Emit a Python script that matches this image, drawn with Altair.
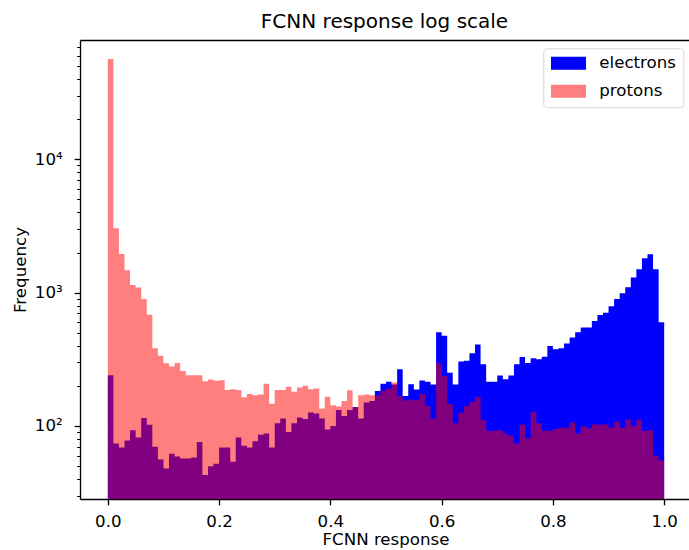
import altair as alt
import pandas as pd

# ---- data (100 bins over [0, 1]) ----
N_BINS = 100
electrons = [240, 74, 69, 78, 93, 82, 115, 102, 70, 56,
             48, 62, 59, 57, 57, 58, 76, 43, 50, 52,
             69, 69, 54, 82, 71, 69, 77, 86, 88, 69,
             105, 114, 90, 105, 116, 113, 126, 124, 114, 94,
             100, 132, 119, 132, 139, 114, 150, 154, 183, 207,
             215, 205, 266, 168, 206, 188, 219, 215, 205, 504,
             475, 251, 205, 304, 309, 351, 408, 290, 215, 215,
             239, 224, 239, 290, 329, 297, 322, 317, 331, 398,
             376, 383, 415, 460, 504, 547, 547, 614, 681, 708,
             790, 897, 989, 1097, 1297, 1497, 1811, 1942, 1497, 600]
protons = [56500, 3040, 1950, 1475, 1143, 1091, 897, 684, 383, 337,
           295, 279, 297, 258, 240, 240, 240, 217, 223, 218,
           220, 186, 189, 186, 164, 174, 170, 172, 207, 147,
           186, 186, 197, 181, 194, 200, 189, 191, 135, 166,
           143, 140, 154, 185, 138, 170, 172, 170, 170, 183,
           190, 212, 167, 155, 158, 157, 174, 141, 114, 295,
           237, 146, 105, 126, 141, 152, 166, 111, 92, 92,
           93, 88, 84, 74, 102, 81, 128, 105, 92, 92,
           95, 97, 97, 106, 88, 100, 96, 103, 102, 103,
           97, 108, 97, 112, 100, 112, 92, 93, 60, 55]
series_names = ["electrons", "protons"]
series_colors = ["#0000ff", "#ff0000"]
series_alpha = [1.0, 0.5]
x_ticks = [0.0, 0.2, 0.4, 0.6, 0.8, 1.0]
y_major = [100, 1000, 10000]
y_minor = [30, 40, 50, 60, 70, 80, 90,
           200, 300, 400, 500, 600, 700, 800, 900,
           2000, 3000, 4000, 5000, 6000, 7000, 8000, 9000,
           20000, 30000, 40000, 50000, 60000, 70000]
X_DOMAIN = [-0.05, 1.0446]
Y_DOMAIN = [28.35, 78460]

FONT = "DejaVu Sans"
FS = 16.67

edges = [i / N_BINS for i in range(N_BINS + 1)]


def step_frame(name, counts):
    # step-after outline: one point per bin start, plus closing edge
    return pd.DataFrame({
        "edge": edges,
        "count": list(counts) + [counts[-1]],
        "series": name,
    })


df = pd.concat([step_frame("electrons", electrons),
                step_frame("protons", protons)], ignore_index=True)

major_test = " || ".join(f"datum.value == {v}" for v in y_major)

y_axis = alt.Axis(
    values=y_major + y_minor,
    labelExpr=("datum.value == 100 ? '10\u00b2' : datum.value == 1000 ? '10\u00b3' : "
               "datum.value == 10000 ? '10\u2074' : ''"),
    tickSize={"condition": {"test": major_test, "value": 5.83}, "value": 3.33},
    tickWidth={"condition": {"test": major_test, "value": 1.33}, "value": 1.0},
    tickColor="black",
    domainColor="black",
    domainWidth=1.33,
    labelFont=FONT,
    labelFontSize=FS,
    labelColor="black",
    labelPadding=12,
    labelBaseline="middle",
    grid=False,
    title="Frequency",
    titleFont=FONT,
    titleFontSize=FS,
    titleFontWeight="normal",
    titleColor="black",
    titleAngle=270,
    titleBaseline="middle",
    titleX=-59.5,
    titleY=229.5,
    titleAlign="center",
)

x_axis_bottom = alt.Axis(
    values=x_ticks,
    format=".1f",
    tickSize=5.83,
    tickWidth=1.33,
    tickColor="black",
    domainColor="black",
    domainWidth=1.33,
    labelFont=FONT,
    labelFontSize=FS,
    labelColor="black",
    labelPadding=9,
    labelFlush=False,
    grid=False,
    title="FCNN response",
    titleFont=FONT,
    titleFontSize=FS,
    titleFontWeight="normal",
    titleColor="black",
    titleBaseline="alphabetic",
    titleX=305.5,
    titleY=45,
    titleAlign="center",
)

x_axis_top = alt.Axis(
    orient="top",
    labels=False,
    ticks=False,
    grid=False,
    domain=True,
    domainColor="black",
    domainWidth=1.33,
    title=None,
)

legend = alt.Legend(
    title=None,
    orient="none",
    legendX=463.3,
    legendY=8.3,
    direction="vertical",
    padding=6.7,
    cornerRadius=3,
    fillColor="white",
    strokeColor="#d6d6d6",
    symbolType="M-1,-0.371L1,-0.371L1,0.371L-1,0.371Z",
    symbolSize=1225,
    symbolStrokeWidth=0,
    symbolOffset=1,
    clipHeight=16.7,
    rowPadding=10,
    labelOffset=13.3,
    labelFont=FONT,
    labelFontSize=FS,
    labelColor="black",
)

color_enc = alt.Color("series:N",
                      scale=alt.Scale(domain=series_names, range=series_colors),
                      legend=legend)
opacity_enc = alt.Opacity("series:N",
                          scale=alt.Scale(domain=series_names, range=series_alpha),
                          legend=legend)


def layer(name, x_axis):
    return alt.Chart(df).transform_filter(
        alt.datum.series == name
    ).mark_area(interpolate="step-after").encode(
        x=alt.X("edge:Q", scale=alt.Scale(domain=X_DOMAIN, nice=False, zero=False),
                axis=x_axis),
        y=alt.Y("count:Q", scale=alt.Scale(type="log", domain=Y_DOMAIN, nice=False),
                axis=y_axis),
        y2=alt.datum(Y_DOMAIN[0]),
        color=color_enc,
        opacity=opacity_enc,
    )


chart = alt.layer(
    layer("electrons", x_axis_bottom),
    layer("protons", x_axis_top),
).resolve_axis(
    x="independent"
).properties(
    width=609,
    height=459,
    title=alt.TitleParams(
        "FCNN response log scale",
        font=FONT,
        fontSize=20,
        fontWeight="normal",
        color="black",
        anchor="middle",
        frame="group",
        baseline="alphabetic",
        offset=12,
        dy=20,
    ),
    autosize=alt.AutoSizeParams(type="none"),
    padding={"left": 80, "top": 40, "right": 0, "bottom": 51},
).configure_view(
    stroke=None
).configure_legend(
    strokeWidth=1
).configure(
    background="white"
)

chart.save("out.html", embed_options={"renderer": "svg", "actions": False})
